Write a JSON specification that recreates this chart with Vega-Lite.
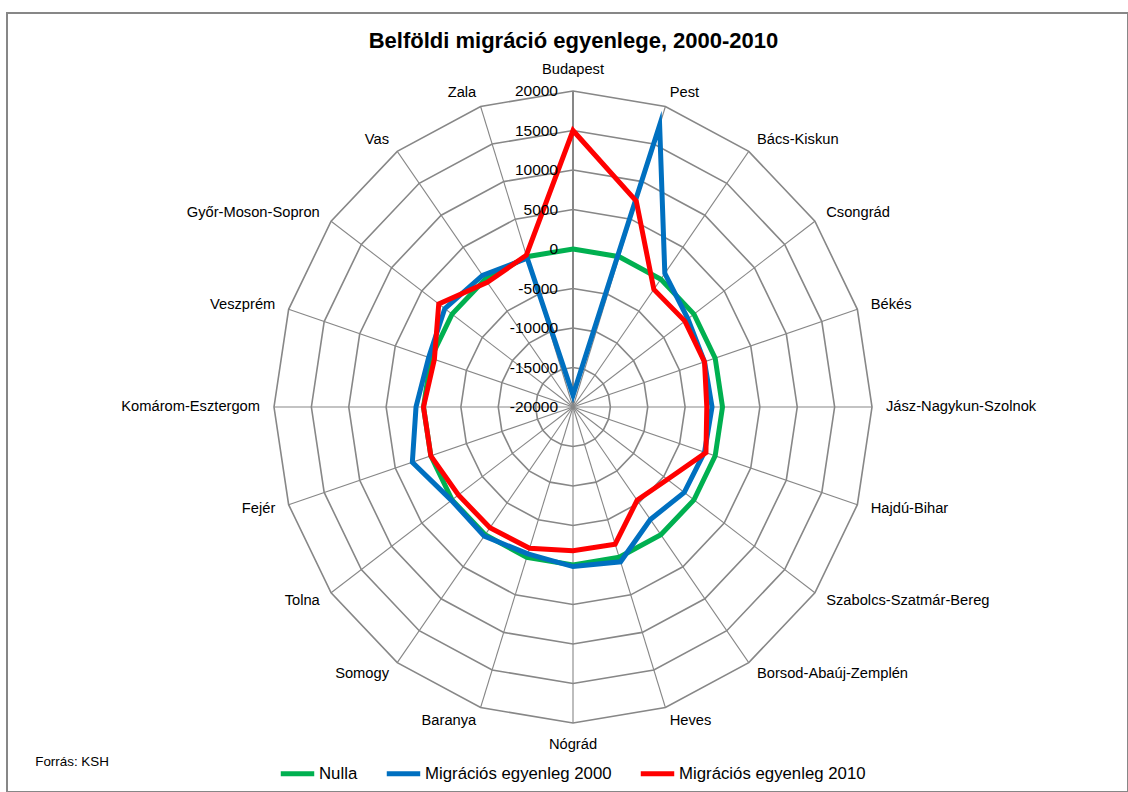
{
  "$schema": "https://vega.github.io/schema/vega-lite/v6.json",
  "width": 1121,
  "height": 779,
  "padding": {"left": 7, "top": 13, "right": 0, "bottom": 0},
  "autosize": {"type": "none"},
  "background": "white",
  "view": {"stroke": "#878787", "strokeWidth": 2},
  "config": {"font": "Liberation Sans"},
  "title": {
    "text": "Belföldi migráció egyenlege, 2000-2010",
    "fontSize": 22, "fontWeight": "bold", "font": "Liberation Sans", "color": "#000000",
    "anchor": "middle", "frame": "group", "offset": -50, "baseline": "middle", "dx": 6
  },
  "datasets": {
    "cats": [
      {"order": 0, "category": "Budapest"},
      {"order": 1, "category": "Pest"},
      {"order": 2, "category": "Bács-Kiskun"},
      {"order": 3, "category": "Csongrád"},
      {"order": 4, "category": "Békés"},
      {"order": 5, "category": "Jász-Nagykun-Szolnok"},
      {"order": 6, "category": "Hajdú-Bihar"},
      {"order": 7, "category": "Szabolcs-Szatmár-Bereg"},
      {"order": 8, "category": "Borsod-Abaúj-Zemplén"},
      {"order": 9, "category": "Heves"},
      {"order": 10, "category": "Nógrád"},
      {"order": 11, "category": "Baranya"},
      {"order": 12, "category": "Somogy"},
      {"order": 13, "category": "Tolna"},
      {"order": 14, "category": "Fejér"},
      {"order": 15, "category": "Komárom-Esztergom"},
      {"order": 16, "category": "Veszprém"},
      {"order": 17, "category": "Győr-Moson-Sopron"},
      {"order": 18, "category": "Vas"},
      {"order": 19, "category": "Zala"}
    ],
    "levels": [
      {"level": -20000, "order": 0, "v": 0},
      {"level": -15000, "order": 0, "v": 0},
      {"level": -10000, "order": 0, "v": 0},
      {"level": -5000, "order": 0, "v": 0},
      {"level": 0, "order": 0, "v": 0},
      {"level": 5000, "order": 0, "v": 0},
      {"level": 10000, "order": 0, "v": 0},
      {"level": 15000, "order": 0, "v": 0},
      {"level": 20000, "order": 0, "v": 0}
    ],
    "series": [
      {"series": "Nulla", "order": 0, "category": "Budapest", "value": 0},
      {"series": "Nulla", "order": 1, "category": "Pest", "value": 0},
      {"series": "Nulla", "order": 2, "category": "Bács-Kiskun", "value": 0},
      {"series": "Nulla", "order": 3, "category": "Csongrád", "value": 0},
      {"series": "Nulla", "order": 4, "category": "Békés", "value": 0},
      {"series": "Nulla", "order": 5, "category": "Jász-Nagykun-Szolnok", "value": 0},
      {"series": "Nulla", "order": 6, "category": "Hajdú-Bihar", "value": 0},
      {"series": "Nulla", "order": 7, "category": "Szabolcs-Szatmár-Bereg", "value": 0},
      {"series": "Nulla", "order": 8, "category": "Borsod-Abaúj-Zemplén", "value": 0},
      {"series": "Nulla", "order": 9, "category": "Heves", "value": 0},
      {"series": "Nulla", "order": 10, "category": "Nógrád", "value": 0},
      {"series": "Nulla", "order": 11, "category": "Baranya", "value": 0},
      {"series": "Nulla", "order": 12, "category": "Somogy", "value": 0},
      {"series": "Nulla", "order": 13, "category": "Tolna", "value": 0},
      {"series": "Nulla", "order": 14, "category": "Fejér", "value": 0},
      {"series": "Nulla", "order": 15, "category": "Komárom-Esztergom", "value": 0},
      {"series": "Nulla", "order": 16, "category": "Veszprém", "value": 0},
      {"series": "Nulla", "order": 17, "category": "Győr-Moson-Sopron", "value": 0},
      {"series": "Nulla", "order": 18, "category": "Vas", "value": 0},
      {"series": "Nulla", "order": 19, "category": "Zala", "value": 0},
      {"series": "Migrációs egyenleg 2000", "order": 0, "category": "Budapest", "value": -18500},
      {"series": "Migrációs egyenleg 2000", "order": 1, "category": "Pest", "value": 17500},
      {"series": "Migrációs egyenleg 2000", "order": 2, "category": "Bács-Kiskun", "value": 900},
      {"series": "Migrációs egyenleg 2000", "order": 3, "category": "Csongrád", "value": -1000},
      {"series": "Migrációs egyenleg 2000", "order": 4, "category": "Békés", "value": -1500},
      {"series": "Migrációs egyenleg 2000", "order": 5, "category": "Jász-Nagykun-Szolnok", "value": -1400},
      {"series": "Migrációs egyenleg 2000", "order": 6, "category": "Hajdú-Bihar", "value": -1500},
      {"series": "Migrációs egyenleg 2000", "order": 7, "category": "Szabolcs-Szatmár-Bereg", "value": -1600},
      {"series": "Migrációs egyenleg 2000", "order": 8, "category": "Borsod-Abaúj-Zemplén", "value": -2400},
      {"series": "Migrációs egyenleg 2000", "order": 9, "category": "Heves", "value": 600},
      {"series": "Migrációs egyenleg 2000", "order": 10, "category": "Nógrád", "value": 200},
      {"series": "Migrációs egyenleg 2000", "order": 11, "category": "Baranya", "value": -450},
      {"series": "Migrációs egyenleg 2000", "order": 12, "category": "Somogy", "value": 200},
      {"series": "Migrációs egyenleg 2000", "order": 13, "category": "Tolna", "value": 100},
      {"series": "Migrációs egyenleg 2000", "order": 14, "category": "Fejér", "value": 2600},
      {"series": "Migrációs egyenleg 2000", "order": 15, "category": "Komárom-Esztergom", "value": 1000},
      {"series": "Migrációs egyenleg 2000", "order": 16, "category": "Veszprém", "value": 300},
      {"series": "Migrációs egyenleg 2000", "order": 17, "category": "Győr-Moson-Sopron", "value": 1200},
      {"series": "Migrációs egyenleg 2000", "order": 18, "category": "Vas", "value": 600},
      {"series": "Migrációs egyenleg 2000", "order": 19, "category": "Zala", "value": -200},
      {"series": "Migrációs egyenleg 2010", "order": 0, "category": "Budapest", "value": 15000},
      {"series": "Migrációs egyenleg 2010", "order": 1, "category": "Pest", "value": 7400},
      {"series": "Migrációs egyenleg 2010", "order": 2, "category": "Bács-Kiskun", "value": -1600},
      {"series": "Migrációs egyenleg 2010", "order": 3, "category": "Csongrád", "value": -1500},
      {"series": "Migrációs egyenleg 2010", "order": 4, "category": "Békés", "value": -1500},
      {"series": "Migrációs egyenleg 2010", "order": 5, "category": "Jász-Nagykun-Szolnok", "value": -2100},
      {"series": "Migrációs egyenleg 2010", "order": 6, "category": "Hajdú-Bihar", "value": -1300},
      {"series": "Migrációs egyenleg 2010", "order": 7, "category": "Szabolcs-Szatmár-Bereg", "value": -4400},
      {"series": "Migrációs egyenleg 2010", "order": 8, "category": "Borsod-Abaúj-Zemplén", "value": -5400},
      {"series": "Migrációs egyenleg 2010", "order": 9, "category": "Heves", "value": -1750},
      {"series": "Migrációs egyenleg 2010", "order": 10, "category": "Nógrád", "value": -1800},
      {"series": "Migrációs egyenleg 2010", "order": 11, "category": "Baranya", "value": -1200},
      {"series": "Migrációs egyenleg 2010", "order": 12, "category": "Somogy", "value": -1100},
      {"series": "Migrációs egyenleg 2010", "order": 13, "category": "Tolna", "value": -1050},
      {"series": "Migrációs egyenleg 2010", "order": 14, "category": "Fejér", "value": 0},
      {"series": "Migrációs egyenleg 2010", "order": 15, "category": "Komárom-Esztergom", "value": 0},
      {"series": "Migrációs egyenleg 2010", "order": 16, "category": "Veszprém", "value": -500},
      {"series": "Migrációs egyenleg 2010", "order": 17, "category": "Győr-Moson-Sopron", "value": 2200},
      {"series": "Migrációs egyenleg 2010", "order": 18, "category": "Vas", "value": -500},
      {"series": "Migrációs egyenleg 2010", "order": 19, "category": "Zala", "value": 200}
    ]
  },
  "encoding": {
    "x": {
      "field": "px", "type": "quantitative",
      "scale": {"domain": [-1.89298, 1.85619], "nice": false, "zero": false},
      "axis": {
        "title": "Forrás: KSH", "domain": false, "ticks": false, "labels": false, "grid": false,
        "titleX": 27.7, "titleY": -30.3, "titleAlign": "left", "titleAnchor": "start",
        "titleBaseline": "middle", "titleFontSize": 13.4, "titleFontWeight": "normal",
        "titleFont": "Liberation Sans", "titleColor": "#000000"
      }
    },
    "y": {
      "field": "py", "type": "quantitative",
      "scale": {"domain": [-1.21835, 1.24684], "nice": false, "zero": false},
      "axis": null
    }
  },
  "layer": [
    {
      "data": {"name": "levels"},
      "transform": [
        {"filter": "datum.level > -20000"},
        {"impute": "v", "key": "order", "keyvals": [0, 1, 2, 3, 4, 5, 6, 7, 8, 9, 10, 11, 12, 13, 14, 15, 16, 17, 18, 19], "groupby": ["level"], "value": 0},
        {"calculate": "(datum.level + 20000) / 40000", "as": "r"},
        {"calculate": "datum.r * sin(datum.order * PI / 10)", "as": "px"},
        {"calculate": "datum.r * cos(datum.order * PI / 10)", "as": "py"}
      ],
      "mark": {"type": "line", "interpolate": "linear-closed", "color": "#878787", "strokeWidth": 1.6},
      "encoding": {
        "detail": {"field": "level", "type": "nominal"},
        "order": {"field": "order", "type": "quantitative"}
      }
    },
    {
      "data": {"name": "cats"},
      "transform": [
        {"calculate": "0", "as": "px"},
        {"calculate": "0", "as": "py"},
        {"calculate": "sin(datum.order * PI / 10)", "as": "ex"},
        {"calculate": "cos(datum.order * PI / 10)", "as": "ey"}
      ],
      "mark": {"type": "rule", "color": "#878787"},
      "encoding": {
        "x2": {"field": "ex"},
        "y2": {"field": "ey"},
        "strokeWidth": {"condition": {"test": "datum.order == 0", "value": 2}, "value": 1.1}
      }
    },
    {
      "data": {"name": "series"},
      "transform": [
        {"calculate": "(datum.value + 20000) / 40000", "as": "r"},
        {"calculate": "datum.r * sin(datum.order * PI / 10)", "as": "px"},
        {"calculate": "datum.r * cos(datum.order * PI / 10)", "as": "py"}
      ],
      "mark": {"type": "line", "interpolate": "linear-closed", "strokeWidth": 5, "strokeJoin": "miter", "strokeMiterLimit": 10},
      "encoding": {
        "color": {
          "field": "series", "type": "nominal",
          "scale": {"domain": ["Nulla", "Migrációs egyenleg 2000", "Migrációs egyenleg 2010"], "range": ["#00B050", "#0070C0", "#FF0000"]},
          "legend": {
            "orient": "none", "legendX": 271, "legendY": 741, "direction": "horizontal", "title": null,
            "symbolType": "stroke", "symbolSize": 1120, "symbolStrokeWidth": 5,
            "labelFontSize": 16.8, "labelOffset": 2, "columnPadding": 18, "labelFont": "Liberation Sans",
            "labelColor": "#000000", "padding": 0, "labelLimit": 400
          }
        },
        "order": {"field": "order", "type": "quantitative"}
      }
    },
    {
      "data": {"name": "levels"},
      "transform": [
        {"calculate": "0", "as": "px"},
        {"calculate": "(datum.level + 20000) / 40000", "as": "py"}
      ],
      "mark": {"type": "text", "align": "right", "baseline": "middle", "dx": -15, "fontSize": 15.5, "color": "#000000"},
      "encoding": {"text": {"field": "level", "type": "nominal"}}
    },
    {
      "data": {"name": "cats"},
      "transform": [
        {"filter": "datum.order > 0 && datum.order < 10"},
        {"calculate": "1.0468 * sin(datum.order * PI / 10)", "as": "px"},
        {"calculate": "1.0443 * cos(datum.order * PI / 10)", "as": "py"}
      ],
      "mark": {"type": "text", "align": "left", "baseline": "middle", "fontSize": 14.7, "color": "#000000"},
      "encoding": {"text": {"field": "category", "type": "nominal"}}
    },
    {
      "data": {"name": "cats"},
      "transform": [
        {"filter": "datum.order > 10"},
        {"calculate": "1.0468 * sin(datum.order * PI / 10)", "as": "px"},
        {"calculate": "1.0443 * cos(datum.order * PI / 10)", "as": "py"}
      ],
      "mark": {"type": "text", "align": "right", "baseline": "middle", "fontSize": 14.7, "color": "#000000"},
      "encoding": {"text": {"field": "category", "type": "nominal"}}
    },
    {
      "data": {"name": "cats"},
      "transform": [
        {"filter": "datum.order == 0"},
        {"calculate": "0", "as": "px"},
        {"calculate": "1.0443", "as": "py"}
      ],
      "mark": {"type": "text", "align": "center", "baseline": "bottom", "fontSize": 14.7, "color": "#000000"},
      "encoding": {"text": {"field": "category", "type": "nominal"}}
    },
    {
      "data": {"name": "cats"},
      "transform": [
        {"filter": "datum.order == 10"},
        {"calculate": "0", "as": "px"},
        {"calculate": "-1.0443", "as": "py"}
      ],
      "mark": {"type": "text", "align": "center", "baseline": "top", "fontSize": 14.7, "color": "#000000"},
      "encoding": {"text": {"field": "category", "type": "nominal"}}
    }
  ]
}
